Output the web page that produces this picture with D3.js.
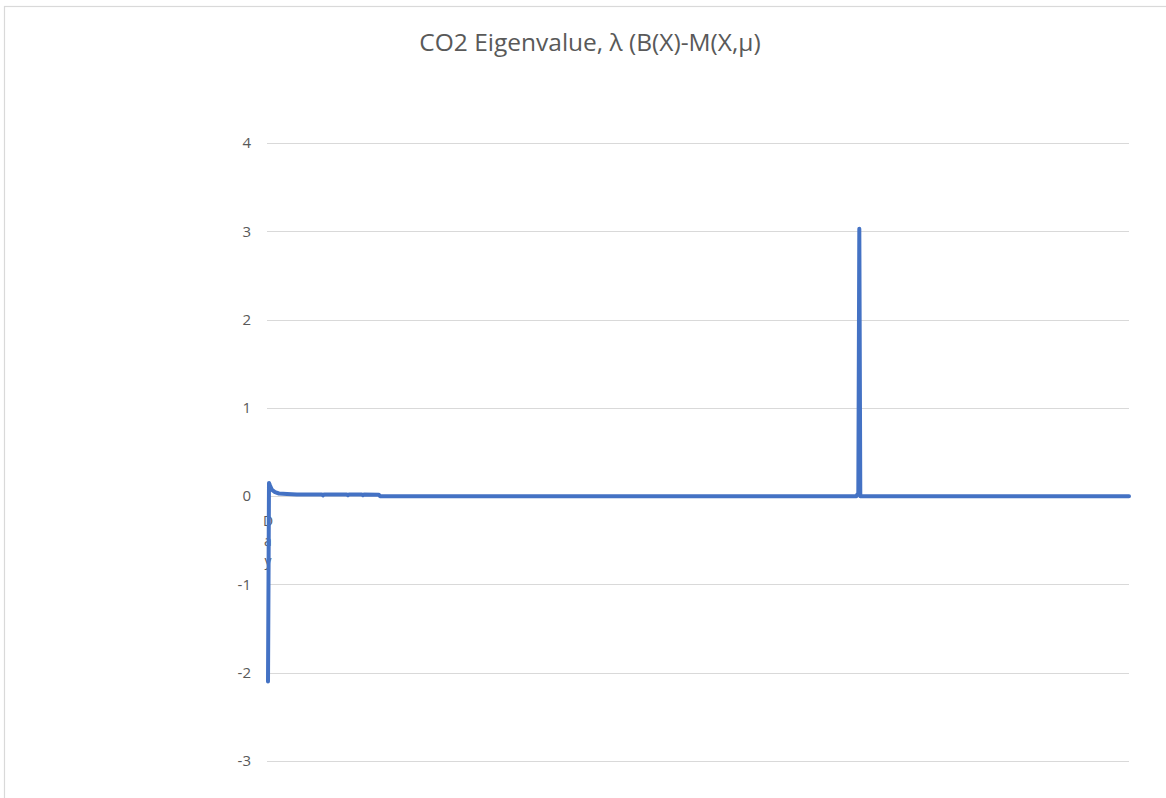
<!DOCTYPE html>
<html>
<head>
<meta charset="utf-8">
<script src="https://cdn.jsdelivr.net/npm/d3@7"></script>
<style>
  html, body { margin: 0; padding: 0; background: #fff; }
  svg { display: block; }
</style>
</head>
<body>
<svg id="chart" width="1166" height="798"></svg>
<script>
// ---- Data ----
const chartTitle = "CO2 Eigenvalue, \u03bb (B(X)-M(X,\u03bc)";
const xAxisTitle = "Day";
const dayCount = 863;
// days where the series changes; the line is straight between them
const keyDays   = [1,    2,    3,    5,    8,     12,   20,    30,   55,   56,    57,   80,   81,   82,   95,   96,   97,   112,   113, 590, 591,  592,  593,  594, 863];
const keyValues = [-2.1, 0.15, 0.12, 0.07, 0.045, 0.03, 0.025, 0.02, 0.02, 0.008, 0.02, 0.02, 0.01, 0.02, 0.02, 0.01, 0.02, 0.015, 0,   0,   0.02, 0.03, 3.03, 0,   0];
const yTicks = [-3, -2, -1, 0, 1, 2, 3, 4];

// ---- Layout ----
const svg = d3.select("#chart");
const plot = { left: 267, right: 1129, top: 143, bottom: 761 };
const font = "'Open Sans', 'Noto Sans', sans-serif";

const x = d3.scaleLinear().domain([1, dayCount]).range([plot.left + 1, plot.right]);
const y = d3.scaleLinear().domain([-3, 4]).range([plot.bottom, plot.top]);

// chart frame (light gray border, partially cropped)
svg.append("rect")
  .attr("x", 4.5).attr("y", 6.5)
  .attr("width", 1180).attr("height", 820)
  .attr("fill", "#fff").attr("stroke", "#d9d9d9").attr("stroke-width", 1.2);

// title
svg.append("text")
  .attr("x", 590).attr("y", 51)
  .attr("text-anchor", "middle")
  .attr("font-family", font)
  .attr("font-size", 24.5)
  .attr("fill", "#595959")
  .text(chartTitle);

// gridlines
svg.append("g")
  .selectAll("line")
  .data(yTicks)
  .join("line")
  .attr("x1", plot.left).attr("x2", plot.right)
  .attr("y1", d => Math.round(y(d)) + 0.5).attr("y2", d => Math.round(y(d)) + 0.5)
  .attr("stroke", "#d9d9d9").attr("stroke-width", 1.2);

// y axis labels via d3 axis
const yAxis = d3.axisLeft(y).tickValues(yTicks).tickSize(0).tickPadding(0).tickFormat(d => String(d));
const gy = svg.append("g")
  .attr("transform", `translate(${plot.left - 16},0)`)
  .call(yAxis);
gy.select(".domain").remove();
gy.selectAll("text")
  .attr("font-family", font)
  .attr("font-size", 15)
  .attr("fill", "#595959");

// x axis title "Day" stacked vertically (one letter per line)
svg.append("g")
  .selectAll("text")
  .data(xAxisTitle.split(""))
  .join("text")
  .attr("x", plot.left + 1)
  .attr("y", (d, i) => 526 + i * 20)
  .attr("text-anchor", "middle")
  .attr("font-family", font)
  .attr("font-size", 14)
  .attr("fill", "#595959")
  .text(d => d);

// series line
const pts = keyDays.map((d, i) => ({ day: d, value: keyValues[i] }));
const line = d3.line().x(d => x(d.day)).y(d => y(d.value));
svg.append("path")
  .datum(pts)
  .attr("d", line)
  .attr("fill", "none")
  .attr("stroke", "#4472C4")
  .attr("stroke-width", 4)
  .attr("stroke-linejoin", "round")
  .attr("stroke-linecap", "round");
</script>
</body>
</html>
